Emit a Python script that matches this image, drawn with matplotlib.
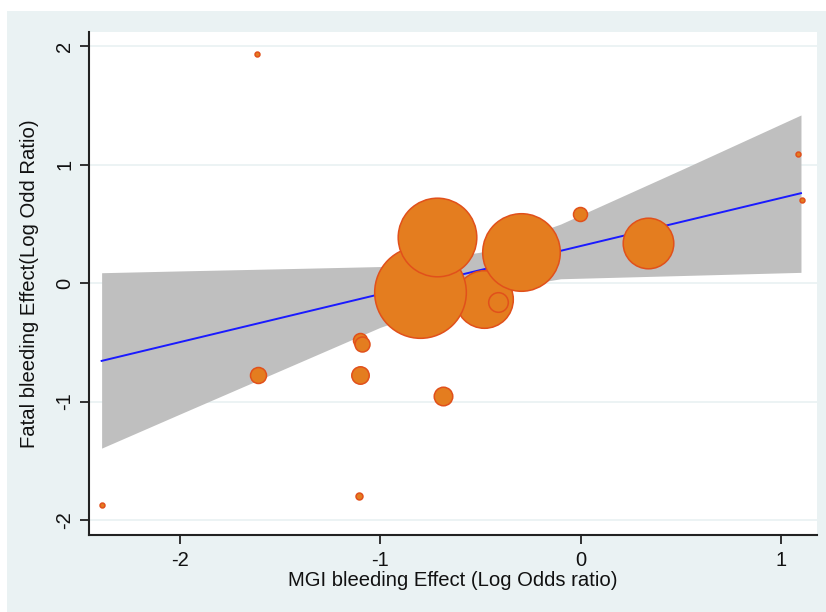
#!/usr/bin/env python3
"""Meta-regression bubble plot: fatal vs MGI bleeding effect."""

import matplotlib
matplotlib.use("Agg")
import matplotlib.pyplot as plt
from matplotlib.patches import Rectangle

plt.rcParams["font.family"] = ["Liberation Sans", "DejaVu Sans"]

# study effects (log odds ratios) and relative study weights
mgi_effect = [-0.482, -0.414, -0.802, -0.716, -0.295, 0.339, -0.005,
              -1.103, -1.091, -1.103, -0.686, -1.610, -1.106,
              -1.614, -2.387, 1.086, 1.106]
fatal_effect = [-0.135, -0.163, -0.073, 0.385, 0.264, 0.334, 0.580,
                -0.480, -0.514, -0.780, -0.950, -0.780, -1.800,
                1.930, -1.870, 1.087, 0.700]
study_weight = [830, 96, 2100, 1545, 1505, 640, 49,
                49, 56, 76, 86, 64, 12,
                6, 6, 6, 6]

# fitted line and its confidence band
fit_x = [-2.39, 1.10]
fit_y = [-0.657, 0.758]
band_x = [-2.39, -2.0, -1.5, -1.0, -0.5, -0.1, 0.5, 1.1]
band_hi = [0.087, 0.102, 0.120, 0.139, 0.260, 0.497, 0.954, 1.418]
band_lo = [-1.393, -1.106, -0.740, -0.374, -0.080, 0.036, 0.063, 0.090]

x_ticks = [-2, -1, 0, 1]
y_ticks = [-2, -1, 0, 1, 2]

W, H = 826, 612
fig = plt.figure(figsize=(W / 100, H / 100), dpi=100, facecolor="white")
fig.patches.append(Rectangle((7 / W, 0), 1 - 7 / W, (H - 11) / H,
                             transform=fig.transFigure, facecolor="#eaf2f3",
                             edgecolor="none", zorder=-10))

ax = fig.add_axes([89 / W, (H - 535) / H, (817 - 89) / W, (535 - 32) / H])
ax.set_facecolor("white")
ax.set_axisbelow(True)

ax.fill_between(band_x, band_lo, band_hi, color="#bfbfbf", linewidth=0, zorder=1)
ax.plot(fit_x, fit_y, color="#1a1aff", linewidth=1.4, zorder=2)

px_to_pt = 0.72
for x, y, w in zip(mgi_effect, fatal_effect, study_weight):
    ax.scatter([x], [y], s=w * (2 * px_to_pt) ** 2, color="#e47d1f",
               edgecolors="#e1501b", linewidths=1.1, zorder=3)

ax.set_xlim(-2.453, 1.18)
ax.set_ylim(-2.126, 2.118)
ax.set_xticks(x_ticks)
ax.set_yticks(y_ticks)
ax.set_xticklabels([str(t) for t in x_ticks])
ax.set_yticklabels([str(t) for t in y_ticks], rotation=90, va="center")

ax.grid(axis="y", color="#eaf2f3", linewidth=1.3)
ax.grid(axis="x", visible=False)

for side in ("top", "right"):
    ax.spines[side].set_visible(False)
for side in ("left", "bottom"):
    ax.spines[side].set_color("#222222")
    ax.spines[side].set_linewidth(1.5)

ax.tick_params(axis="both", length=6.5, width=1.3, color="#222222",
               labelsize=14.5, labelcolor="#111111")
ax.tick_params(axis="y", pad=4)
ax.tick_params(axis="x", pad=5)

ax.set_xlabel("MGI bleeding Effect (Log Odds ratio)", fontsize=14.6,
              color="#111111", labelpad=1)
ax.set_ylabel("Fatal bleeding Effect(Log Odd Ratio)", fontsize=14.6,
              color="#111111", labelpad=12)

fig.savefig("out.png", dpi=100, facecolor=fig.get_facecolor())
